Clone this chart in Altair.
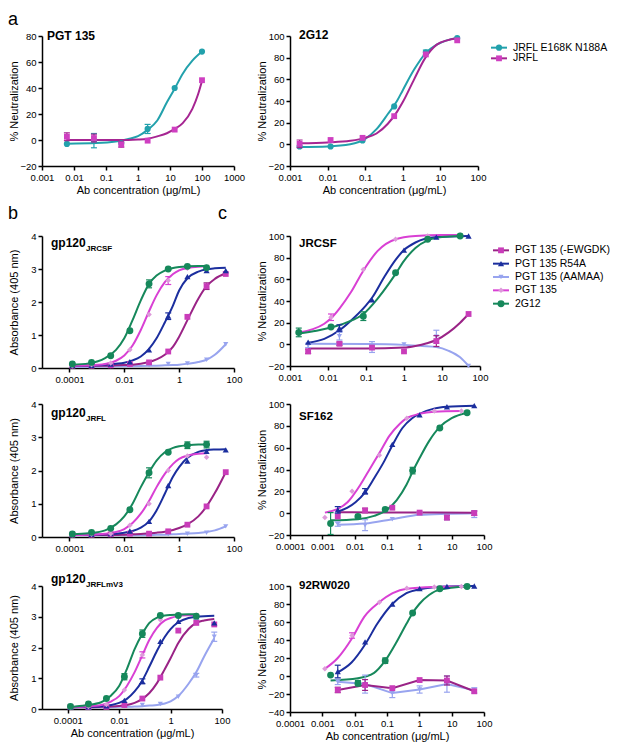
import altair as alt
import pandas as pd

FONT = "Liberation Sans"
XTITLE = "Ab concentration (μg/mL)"
NEUT = "% Neutralization"
ABS = "Absorbance (405 nm)"

A_NAMES = ["JRFL E168K N188A", "JRFL"]
C_NAMES = ["PGT 135 (-EWGDK)", "PGT 135 R54A", "PGT 135 (AAMAA)", "PGT 135", "2G12"]
DRAW_ORDER = ["PGT 135 (AAMAA)", "PGT 135 (-EWGDK)", "PGT 135 R54A", "PGT 135", "2G12"]

# ---------------- panel a, PGT 135 ----------------
A1_X = [0.006, 0.042, 0.3, 2.0, 14.0, 100.0]
A1_MUT_Y = [-3.0, -0.5, -2.5, 8.5, 40.0, 68.0]
A1_MUT_E = [0, 5.5, 0, 3.5, 0, 0]
A1_WT_Y = [2.5, 1.5, -3.5, -0.5, 8.0, 46.0]
A1_WT_E = [3, 3, 2, 0, 0, 0]
A1_MUT_CX = [0.006, 0.05, 0.2, 0.5, 1, 2, 4, 8, 14, 25, 50, 100]
A1_MUT_CY = [-2.8, -2.4, -1.2, 0.8, 3, 7.8, 15, 29, 39.5, 51, 61, 68]
A1_WT_CX = [0.006, 0.1, 0.5, 1, 2, 4, 8, 14, 25, 50, 75, 100]
A1_WT_CY = [0, 0, 0, 0.3, 1, 2.8, 5.2, 8.5, 13, 24, 35, 45.5]

# ---------------- panel a, 2G12 ----------------
A2_X = [0.0018, 0.012, 0.085, 0.59, 4.1, 28.0]
A2_MUT_Y = [-2.0, -2.0, 3.5, 35.0, 85.0, 98.0]
A2_MUT_E = [0, 0, 0, 0, 2, 0]
A2_WT_Y = [0.5, 4.0, 6.0, 26.0, 83.0, 96.0]
A2_WT_E = [3.5, 0, 0, 0, 0, 0]
A2_CX = [0.0018, 0.01, 0.04, 0.1, 0.2, 0.4, 0.7, 1, 2, 4, 8, 15, 28]
A2_MUT_CY = [-2.5, -2, 0, 5, 14, 28, 40, 50, 69, 84, 92, 96, 98.5]
A2_WT_CY = [1, 1.8, 3.3, 6, 10, 19, 30, 39, 60, 80, 92, 96, 98]

# ---------------- panel b (ELISA) ----------------
B_X = [0.000128, 0.00064, 0.0032, 0.016, 0.08, 0.4, 2.0, 10.0, 50.0]
B_CX = [0.000128, 0.0005, 0.002, 0.005, 0.01, 0.02, 0.04, 0.08, 0.15, 0.3, 0.6, 1, 2, 5, 10, 20, 50]

B1_EW_Y = [0.07, 0.07, 0.08, 0.12, 0.17, 0.5, 1.55, 2.48, 2.85]
B1_EW_E = [0, 0, 0, 0, 0, 0, 0, 0.1, 0]
B1_R54_Y = [0.07, 0.08, 0.12, 0.19, 0.55, 1.57, 2.77, 2.95, 2.95]
B1_R54_E = [0, 0, 0, 0, 0, 0.1, 0, 0, 0]
B1_AA_Y = [0.05, 0.05, 0.05, 0.06, 0.08, 0.12, 0.14, 0.25, 0.72]
B1_PGT_Y = [0.07, 0.1, 0.15, 0.55, 1.62, 2.65, 3.02, 3.06, None]
B1_PGT_E = [0, 0, 0, 0, 0, 0.12, 0, 0, 0]
B1_G_Y = [0.12, 0.17, 0.37, 1.13, 2.55, 3.0, 3.08, 3.04, None]
B1_G_E = [0, 0, 0, 0, 0.12, 0, 0, 0, 0]
B1_EW_CY = [0.07, 0.07, 0.07, 0.08, 0.09, 0.1, 0.13, 0.18, 0.26, 0.4, 0.65, 0.95, 1.45, 2.1, 2.48, 2.7, 2.87]
B1_R54_CY = [0.07, 0.08, 0.1, 0.13, 0.16, 0.23, 0.35, 0.58, 0.9, 1.38, 1.9, 2.35, 2.72, 2.92, 2.99, 3.02, 3.04]
B1_AA_CY = [0.04, 0.04, 0.045, 0.05, 0.05, 0.055, 0.06, 0.065, 0.07, 0.08, 0.09, 0.1, 0.13, 0.18, 0.25, 0.4, 0.72]
B1_PGT_CY = [0.07, 0.08, 0.12, 0.22, 0.38, 0.68, 1.15, 1.72, 2.2, 2.6, 2.85, 2.96, 3.03, 3.07, 3.08, None, None]
B1_G_CY = [0.1, 0.14, 0.3, 0.55, 0.9, 1.45, 2.05, 2.55, 2.8, 2.95, 3.03, 3.06, 3.08, 3.09, 3.09, None, None]

B2_EW_Y = [0.07, 0.07, 0.08, 0.1, 0.1, 0.17, 0.37, 0.92, 1.95]
B2_R54_Y = [0.07, 0.08, 0.1, 0.18, 0.47, 1.55, 2.28, 2.58, 2.62]
B2_AA_Y = [0.05, 0.05, 0.05, 0.06, 0.07, 0.08, 0.1, 0.13, 0.32]
B2_PGT_Y = [0.07, 0.08, 0.1, 0.35, 1.0, 2.0, 2.44, 2.4, None]
B2_G_Y = [0.09, 0.14, 0.26, 0.82, 1.93, 2.55, 2.76, 2.78, None]
B2_G_E = [0, 0, 0, 0, 0.15, 0, 0.1, 0.1, 0]
B2_EW_CY = [0.06, 0.06, 0.06, 0.06, 0.07, 0.08, 0.09, 0.11, 0.13, 0.16, 0.21, 0.27, 0.38, 0.62, 0.92, 1.32, 1.95]
B2_R54_CY = [0.06, 0.07, 0.08, 0.1, 0.13, 0.18, 0.28, 0.47, 0.8, 1.3, 1.82, 2.1, 2.38, 2.56, 2.61, 2.63, 2.64]
B2_AA_CY = [0.05, 0.05, 0.05, 0.05, 0.05, 0.05, 0.055, 0.06, 0.065, 0.07, 0.08, 0.09, 0.1, 0.12, 0.15, 0.2, 0.32]
B2_PGT_CY = [0.06, 0.07, 0.1, 0.15, 0.24, 0.42, 0.7, 1.08, 1.5, 1.9, 2.2, 2.35, 2.45, 2.5, 2.52, None, None]
B2_G_CY = [0.08, 0.11, 0.2, 0.38, 0.62, 1.0, 1.5, 1.95, 2.3, 2.55, 2.68, 2.73, 2.76, 2.78, 2.78, None, None]

B3_EW_Y = [0.06, 0.06, 0.07, 0.13, 0.34, 1.02, 2.55, 2.8, 2.75]
B3_R54_Y = [0.06, 0.07, 0.1, 0.28, 0.9, 2.2, 2.85, 3.0, 2.8]
B3_R54_E = [0, 0, 0, 0, 0.08, 0, 0, 0, 0]
B3_AA_Y = [0.05, 0.05, 0.06, 0.08, 0.13, 0.16, 0.4, 1.1, 2.35]
B3_AA_E = [0, 0, 0, 0, 0, 0, 0, 0.06, 0.15]
B3_PGT_Y = [0.06, 0.08, 0.15, 0.62, 1.76, 2.9, 3.03, 3.05, None]
B3_PGT_E = [0, 0, 0, 0, 0.1, 0, 0, 0, 0]
B3_G_Y = [0.085, 0.16, 0.34, 1.05, 2.45, 3.04, 3.04, 3.02, None]
B3_G_E = [0, 0, 0, 0.1, 0.12, 0, 0, 0, 0]
B3_EW_CY = [0.06, 0.06, 0.07, 0.08, 0.1, 0.13, 0.2, 0.33, 0.52, 0.85, 1.3, 1.65, 2.15, 2.6, 2.8, 2.88, 2.93]
B3_R54_CY = [0.06, 0.07, 0.09, 0.13, 0.2, 0.33, 0.57, 0.93, 1.38, 1.9, 2.35, 2.6, 2.82, 2.96, 3.0, 3.02, 3.03]
B3_AA_CY = [0.06, 0.06, 0.06, 0.06, 0.07, 0.07, 0.08, 0.09, 0.11, 0.13, 0.18, 0.25, 0.42, 0.82, 1.2, 1.7, 2.3]
B3_PGT_CY = [0.06, 0.08, 0.13, 0.25, 0.42, 0.75, 1.2, 1.75, 2.25, 2.65, 2.88, 2.96, 3.02, 3.05, 3.06, None, None]
B3_G_CY = [0.06, 0.12, 0.22, 0.45, 0.75, 1.3, 1.95, 2.45, 2.8, 2.97, 3.04, 3.06, 3.07, 3.08, 3.08, None, None]

# ---------------- panel c, JRCSF ----------------
C1_XA = [0.0017, 0.012, 0.085, 0.6, 4.2, 30.0]
C1_XB = [0.003, 0.02, 0.144, 1.0, 7.1, 50.0]
C1_EW_Y = [-6.5, 0.5, -3.0, -6.5, 3.0, 28.0]
C1_EW_E = [2, 1.5, 0, 0, 5, 0]
C1_R54_Y = [2.0, 15.0, 41.0, 87.0, 99.0, 100.0]
C1_R54_E = [0, 3, 0, 0, 0, 0]
C1_AA_Y = [-1.0, 7.5, -2.5, 0.0, 7.0, -20.0]
C1_AA_E = [2, 3.5, 5, 0, 6, 0]
C1_PGT_Y = [11.0, 25.0, 69.0, 97.0, 100.0, 101.0]
C1_PGT_E = [0, 3, 0, 0, 0, 0]
C1_G_Y = [11.0, 16.0, 26.0, 66.0, 97.0, 100.0]
C1_G_E = [4, 0, 4, 0, 0, 0]
C1_EW_CX = [0.003, 0.1, 1, 2, 4, 7.1, 15, 30, 50]
C1_EW_CY = [-3.8, -3.8, -3, -1.5, 1, 4, 11, 20, 28]
C1_R54_CX = [0.003, 0.008, 0.02, 0.05, 0.1, 0.144, 0.3, 0.6, 1, 2, 7.1, 50]
C1_R54_CY = [1.5, 5, 13, 25, 36, 43, 62, 78, 87, 94, 99, 100]
C1_AA_CX = [0.003, 0.1, 1, 3, 7.1, 15, 30, 50]
C1_AA_CY = [0.5, 0.3, -0.5, -1.5, -2.5, -6, -12, -20]
C1_PGT_CX = [0.0017, 0.004, 0.008, 0.012, 0.02, 0.04, 0.085, 0.2, 0.6, 2, 10, 30]
C1_PGT_CY = [11, 14, 19, 24, 33, 48, 68, 86, 97, 100, 101, 101]
C1_G_CX = [0.0017, 0.005, 0.012, 0.03, 0.085, 0.2, 0.4, 0.6, 1, 2, 4.2, 10, 30]
C1_G_CY = [10, 12.5, 15.5, 20, 28, 42, 56, 65, 77, 89, 96, 99, 100]

# ---------------- panel c, SF162 ----------------
C_XA = [0.0012, 0.0083, 0.058, 0.41, 2.9, 20.0]
C_XB = [0.003, 0.021, 0.146, 1.02, 7.14, 50.0]
C_XC = [0.0018, 0.0126, 0.088, 0.62, 4.3, 30.0]
C2_EW_Y = [-3.0, 2.5, 5.0, 0.5, -4.0, 0.0]
C2_EW_E = [0, 2, 0, 0, 2, 2]
C2_R54_Y = [3.0, 20.0, 63.0, 90.0, 97.5, 98.5]
C2_R54_E = [3, 2.5, 0, 0, 0, 0]
C2_AA_Y = [-10.0, -11.0, -5.5, -0.5, -4.0, -1.0]
C2_AA_E = [2, 5, 0, 1, 2, 3]
C2_PGT_Y = [-4.0, 20.0, 53.0, 87.0, 93.5, 93.5]
C2_G_Y = [-9.5, -3.0, 3.5, 39.0, 78.0, 92.0]
C2_G_E = [10, 0, 0, 3, 0, 0]
C2_EW_CX = [0.003, 0.03, 0.3, 3, 50]
C2_EW_CY = [0.8, 0.7, 0.6, 0.5, 0.4]
C2_R54_CX = [0.003, 0.006, 0.0106, 0.021, 0.04, 0.08, 0.146, 0.3, 0.6, 1.02, 3, 7.14, 50]
C2_R54_CY = [1.5, 5, 10, 19, 32, 47, 62, 78, 87, 91, 96, 97.5, 98.5]
C2_AA_CX = [0.003, 0.021, 0.146, 1.02, 7.14, 50]
C2_AA_CY = [-10.5, -9.5, -5.5, -1.5, -0.5, 0]
C2_PGT_CX = [0.0012, 0.003, 0.006, 0.0083, 0.015, 0.03, 0.058, 0.12, 0.25, 0.41, 1, 2.9, 20]
C2_PGT_CY = [0.5, 4, 10, 15, 26, 41, 55, 71, 82, 87, 91, 93, 93.5]
C2_G_CX = [0.0018, 0.0126, 0.04, 0.088, 0.2, 0.4, 0.62, 1, 2, 4.3, 10, 30]
C2_G_CY = [-6.5, -5.5, -2.5, 2, 12, 26, 38, 50, 66, 79, 87, 92]

# ---------------- panel c, 92RW020 ----------------
C3_EW_Y = [-15.5, -10.0, -13.5, -4.5, -5.0, -17.0]
C3_EW_E = [3, 6, 0, 0, 5, 0]
C3_R54_Y = [5.0, 38.0, 80.0, 97.0, 99.5, 100.0]
C3_R54_E = [7, 0, 0, 0, 0, 0]
C3_AA_Y = [-6.5, -9.0, -19.0, -15.0, -9.0, -16.0]
C3_AA_E = [3, 10, 5, 4, 9, 3]
C3_PGT_Y = [8.0, 45.0, 82.0, 97.5, 99.0, 99.5]
C3_PGT_E = [0, 3, 0, 0, 0, 0]
C3_G_Y = [1.0, -8.0, 17.0, 70.0, 97.0, 99.5]
C3_G_E = [0, 3, 3, 0, 0, 0]
C3_R54_CX = [0.003, 0.008, 0.021, 0.05, 0.146, 0.4, 1.02, 7.14, 50]
C3_R54_CY = [4, 15, 35, 58, 80, 92, 96.5, 99.5, 100]
C3_PGT_CX = [0.0012, 0.003, 0.0083, 0.02, 0.058, 0.15, 0.41, 2.9, 20]
C3_PGT_CY = [8, 20, 42, 66, 82, 92, 97, 99, 99.5]
C3_G_CX = [0.0018, 0.0126, 0.04, 0.088, 0.2, 0.4, 0.62, 1, 2, 4.3, 30]
C3_G_CY = [-5, -2.5, 3.5, 17, 38, 58, 70, 80, 90, 96, 99.5]

# ---------------- styles ----------------
STYLE = {
    "JRFL E168K N188A": dict(line="#22a1ac", mark="#22a1ac", shape="circle", size=38),
    "JRFL": dict(line="#a62592", mark="#cf3fc1", shape="square", size=34),
    "PGT 135 (-EWGDK)": dict(line="#9a2386", mark="#c93cb9", shape="square", size=34),
    "PGT 135 R54A": dict(line="#1b2e9e", mark="#1b2e9e", shape="triangle-up", size=38),
    "PGT 135 (AAMAA)": dict(line="#98a4ef", mark="#98a4ef", shape="triangle-down", size=26),
    "PGT 135": dict(line="#d940d4", mark="#dd9ada", shape="diamond", size=30),
    "2G12": dict(line="#16885b", mark="#16885b", shape="circle", size=48),
}

ONE = pd.DataFrame({"v": [0]})


def frame_pts(rows):
    recs = []
    for name, xs, ys, es in rows:
        for k, (xv, yv) in enumerate(zip(xs, ys)):
            if yv is None:
                continue
            ev = es[k] if es else 0
            recs.append({"s": name, "x": xv, "y": yv, "lo": yv - ev, "hi": yv + ev, "e": ev})
    return pd.DataFrame(recs)


def frame_crv(rows):
    recs = []
    for name, xs, ys in rows:
        for k, (xv, yv) in enumerate(zip(xs, ys)):
            if yv is None:
                continue
            recs.append({"s": name, "x": xv, "y": yv, "i": k})
    return pd.DataFrame(recs)


def panel(names, pts, crv, xdom, xticks, ydom, yticks, w, h, ytitle, xtitle=None,
          texts=(), straight=None, legend_names=None, legend_first=0, legend_step=15):
    xs = alt.Scale(type="log", domain=xdom, nice=False)
    ys = alt.Scale(domain=ydom, nice=False, zero=False)
    xax = alt.Axis(values=xticks, format="~r", labelFlush=False)
    yax = alt.Axis(values=yticks, labelFlush=False)

    def X():
        return alt.X("x:Q", scale=xs, axis=xax, title=xtitle)

    def Y(f):
        return alt.Y(f + ":Q", scale=ys, axis=yax, title=ytitle)

    layers = []
    for n in names:
        st = STYLE[n]
        c = crv[crv.s == n]
        if len(c):
            layers.append(alt.Chart(c).mark_line(color=st["line"], strokeWidth=2, interpolate="monotone")
                          .encode(x=X(), y=Y("y"), order="i:Q"))
        if straight is not None and n in straight:
            c2 = pts[pts.s == n]
            layers.append(alt.Chart(c2).mark_line(color=st["line"], strokeWidth=2)
                          .encode(x=X(), y=Y("y")))
    for n in names:
        st = STYLE[n]
        e = pts[(pts.s == n) & (pts.e > 0)]
        if len(e):
            layers.append(alt.Chart(e).mark_rule(color=st["line"], strokeWidth=1.2)
                          .encode(x=X(), y=Y("lo"), y2="hi:Q"))
            for f in ("lo", "hi"):
                layers.append(alt.Chart(e).mark_tick(color=st["line"], orient="horizontal", size=6,
                                                     thickness=1.2, opacity=1)
                              .encode(x=X(), y=Y(f)))
        p = pts[pts.s == n]
        layers.append(alt.Chart(p).mark_point(filled=True, opacity=1, shape=st["shape"], size=st["size"],
                                              color=st["mark"], strokeWidth=0)
                      .encode(x=X(), y=Y("y")))
    for (t, tx, ty, fs, fw, bl) in texts:
        layers.append(alt.Chart(ONE).mark_text(text=t, align="left", baseline=bl, font=FONT,
                                               fontSize=fs, fontWeight=fw, color="black")
                      .encode(x=alt.value(tx), y=alt.value(ty)))
    main = alt.layer(*layers)
    if legend_names is None:
        return main.properties(width=w, height=h)
    # point scale with outer padding 0.5: entries sit at first, first+step, ...
    n_leg = len(legend_names)
    r0 = legend_first - legend_step / 2
    r1 = r0 + legend_step * n_leg
    ly = alt.Y("s:N", scale=alt.Scale(domain=legend_names, range=[r0, r1], paddingOuter=0.5),
               axis=None)
    leg = []
    for n in legend_names:
        st = STYLE[n]
        d = pd.DataFrame({"s": [n]})
        leg.append(alt.Chart(d).mark_rule(color=st["line"], strokeWidth=2)
                   .encode(x=alt.value(w + 13), x2=alt.value(w + 29), y=ly))
        leg.append(alt.Chart(d).mark_point(filled=True, opacity=1, shape=st["shape"], size=st["size"],
                                           color=st["mark"], strokeWidth=0)
                   .encode(x=alt.value(w + 21), y=ly))
        leg.append(alt.Chart(d).mark_text(align="left", baseline="middle", font=FONT, fontSize=10.5,
                                          color="black")
                   .encode(x=alt.value(w + 35), y=ly, text="s:N"))
    return alt.layer(main, alt.layer(*leg)).resolve_scale(y="independent").properties(width=w, height=h)


def spacer(h):
    return (alt.Chart(ONE).mark_point(opacity=0, size=1)
            .encode(x=alt.value(0), y=alt.value(0)).properties(width=1, height=h))


# ---------------- build panels ----------------
a1 = panel(
    A_NAMES,
    frame_pts([("JRFL E168K N188A", A1_X, A1_MUT_Y, A1_MUT_E), ("JRFL", A1_X, A1_WT_Y, A1_WT_E)]),
    frame_crv([("JRFL E168K N188A", A1_MUT_CX, A1_MUT_CY), ("JRFL", A1_WT_CX, A1_WT_CY)]),
    [0.001, 1000], [0.001, 0.01, 0.1, 1, 10, 100, 1000], [-20, 80], [-20, 0, 20, 40, 60, 80],
    192, 130, NEUT, XTITLE,
    texts=[("PGT 135", 5, 4, 12, "bold", "alphabetic"), ("a", -34, -25, 18, "normal", "top")])

a2 = panel(
    A_NAMES,
    frame_pts([("JRFL E168K N188A", A2_X, A2_MUT_Y, A2_MUT_E), ("JRFL", A2_X, A2_WT_Y, A2_WT_E)]),
    frame_crv([("JRFL E168K N188A", A2_CX, A2_MUT_CY), ("JRFL", A2_CX, A2_WT_CY)]),
    [0.001, 100], [0.001, 0.01, 0.1, 1, 10, 100], [-20, 100], [-20, 0, 20, 40, 60, 80, 100],
    188, 130, NEUT, XTITLE,
    texts=[("2G12", 9, 3, 12, "bold", "alphabetic")],
    legend_names=A_NAMES, legend_first=9, legend_step=16)

B_TICKS = [0.0001, 0.01, 1, 100]


def b_panel(ew, r54, aa, pgt, g, ewc, r54c, aac, pgtc, gc, h, w, sub, ty, xtitle=None, letter=False):
    pts = frame_pts([("PGT 135 (-EWGDK)", B_X, ew[0], ew[1]), ("PGT 135 R54A", B_X, r54[0], r54[1]),
                     ("PGT 135 (AAMAA)", B_X, aa[0], aa[1]), ("PGT 135", B_X, pgt[0], pgt[1]),
                     ("2G12", B_X, g[0], g[1])])
    crv = frame_crv([("PGT 135 (-EWGDK)", B_CX, ewc), ("PGT 135 R54A", B_CX, r54c),
                     ("PGT 135 (AAMAA)", B_CX, aac), ("PGT 135", B_CX, pgtc), ("2G12", B_CX, gc)])
    texts = [("gp120", 9, ty, 12, "bold", "alphabetic"), (sub, 44, ty + 3.5, 8, "bold", "alphabetic")]
    if letter:
        texts.append(("b", -34, -17, 18, "normal", "alphabetic"))
    return panel(DRAW_ORDER, pts, crv, [0.00001, 100], B_TICKS, [0, 4], [0, 1, 2, 3, 4],
                 w, h, ABS, xtitle, texts=texts)


b1 = b_panel((B1_EW_Y, B1_EW_E), (B1_R54_Y, B1_R54_E), (B1_AA_Y, None), (B1_PGT_Y, B1_PGT_E), (B1_G_Y, B1_G_E),
             B1_EW_CY, B1_R54_CY, B1_AA_CY, B1_PGT_CY, B1_G_CY, 132, 192, "JRCSF", 11, letter=True)
b2 = b_panel((B2_EW_Y, None), (B2_R54_Y, None), (B2_AA_Y, None), (B2_PGT_Y, None), (B2_G_Y, B2_G_E),
             B2_EW_CY, B2_R54_CY, B2_AA_CY, B2_PGT_CY, B2_G_CY, 133, 192, "JRFL", 13)
b3 = b_panel((B3_EW_Y, None), (B3_R54_Y, B3_R54_E), (B3_AA_Y, B3_AA_E), (B3_PGT_Y, B3_PGT_E), (B3_G_Y, B3_G_E),
             B3_EW_CY, B3_R54_CY, B3_AA_CY, B3_PGT_CY, B3_G_CY, 123, 180, "JRFLmV3", -3, xtitle=XTITLE)

c1 = panel(
    DRAW_ORDER,
    frame_pts([("PGT 135 (-EWGDK)", C1_XB, C1_EW_Y, C1_EW_E), ("PGT 135 R54A", C1_XB, C1_R54_Y, C1_R54_E),
               ("PGT 135 (AAMAA)", C1_XB, C1_AA_Y, C1_AA_E), ("PGT 135", C1_XA, C1_PGT_Y, C1_PGT_E),
               ("2G12", C1_XA, C1_G_Y, C1_G_E)]),
    frame_crv([("PGT 135 (-EWGDK)", C1_EW_CX, C1_EW_CY), ("PGT 135 R54A", C1_R54_CX, C1_R54_CY),
               ("PGT 135 (AAMAA)", C1_AA_CX, C1_AA_CY), ("PGT 135", C1_PGT_CX, C1_PGT_CY),
               ("2G12", C1_G_CX, C1_G_CY)]),
    [0.001, 100], [0.001, 0.01, 0.1, 1, 10, 100], [-20, 100], [-20, 0, 20, 40, 60, 80, 100],
    190, 130, NEUT,
    texts=[("JRCSF", 9, 11, 11.5, "bold", "alphabetic"), ("c", -72, -17, 18, "normal", "alphabetic")],
    legend_names=C_NAMES, legend_first=9, legend_step=16)

c2 = panel(
    DRAW_ORDER,
    frame_pts([("PGT 135 (-EWGDK)", C_XB, C2_EW_Y, C2_EW_E), ("PGT 135 R54A", C_XB, C2_R54_Y, C2_R54_E),
               ("PGT 135 (AAMAA)", C_XB, C2_AA_Y, C2_AA_E), ("PGT 135", C_XA, C2_PGT_Y, None),
               ("2G12", C_XC, C2_G_Y, C2_G_E)]),
    frame_crv([("PGT 135 (-EWGDK)", C2_EW_CX, C2_EW_CY), ("PGT 135 R54A", C2_R54_CX, C2_R54_CY),
               ("PGT 135 (AAMAA)", C2_AA_CX, C2_AA_CY), ("PGT 135", C2_PGT_CX, C2_PGT_CY),
               ("2G12", C2_G_CX, C2_G_CY)]),
    [0.0001, 100], [0.0001, 0.001, 0.01, 0.1, 1, 10, 100], [-20, 100], [-20, 0, 20, 40, 60, 80, 100],
    194, 131, NEUT,
    texts=[("SF162", 9, 16, 11.5, "bold", "alphabetic")])

c3 = panel(
    DRAW_ORDER,
    frame_pts([("PGT 135 (-EWGDK)", C_XB, C3_EW_Y, C3_EW_E), ("PGT 135 R54A", C_XB, C3_R54_Y, C3_R54_E),
               ("PGT 135 (AAMAA)", C_XB, C3_AA_Y, C3_AA_E), ("PGT 135", C_XA, C3_PGT_Y, C3_PGT_E),
               ("2G12", C_XC, C3_G_Y, C3_G_E)]),
    frame_crv([("PGT 135 R54A", C3_R54_CX, C3_R54_CY), ("PGT 135", C3_PGT_CX, C3_PGT_CY),
               ("2G12", C3_G_CX, C3_G_CY)]),
    [0.0001, 100], [0.0001, 0.001, 0.01, 0.1, 1, 10, 100], [-40, 100],
    [-40, -20, 0, 20, 40, 60, 80, 100],
    194, 126, NEUT, XTITLE,
    texts=[("92RW020", 9, 3, 11.5, "bold", "alphabetic")],
    straight=["PGT 135 (-EWGDK)", "PGT 135 (AAMAA)"])

cells = [a1, a2, spacer(70), spacer(70), b1, c1, spacer(36), spacer(36), b2, c2,
         spacer(49), spacer(49), b3, c3]

chart = alt.concat(*cells, columns=2, spacing={"row": 0, "column": 56}, bounds="flush").properties(
    padding={"left": 0, "top": 3, "right": 0, "bottom": 0}
).configure_view(stroke=None).configure_axis(
    domainColor="black", domainWidth=1.5, tickColor="black", tickWidth=1.5, tickSize=4,
    labelFont=FONT, labelFontSize=9.5, labelColor="black", labelPadding=2, labelOverlap=False,
    titleFont=FONT, titleFontSize=11, titleFontWeight="normal", titleColor="black", grid=False
).configure_axisY(minExtent=21, maxExtent=21, titlePadding=2).configure_axisX(titlePadding=3)

chart.save("out.html", embed_options={"renderer": "svg", "actions": False})
